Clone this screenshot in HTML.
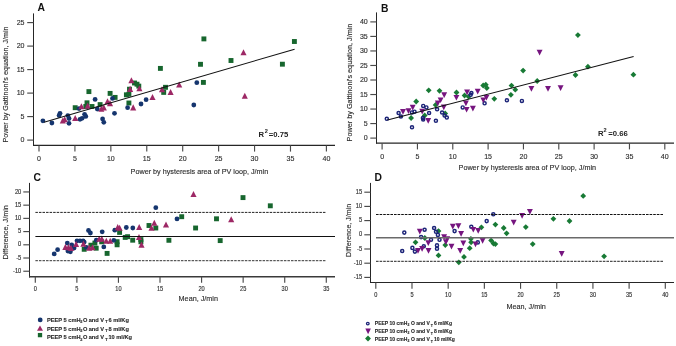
<!DOCTYPE html><html><head><meta charset="utf-8"><style>html,body{margin:0;padding:0;background:#fff;width:676px;height:346px;overflow:hidden}svg{display:block;will-change:transform} text.r{stroke:#2e2e2e;stroke-width:0.14px}</style></head><body>
<svg width="676" height="346" viewBox="0 0 676 346" font-family='"Liberation Sans", sans-serif'>
<rect width="676" height="346" fill="#fff"/>
<line x1="33.5" y1="13.4" x2="33.5" y2="146.0" stroke="#262626" stroke-width="1"/>
<line x1="33.0" y1="145.4" x2="335" y2="145.4" stroke="#262626" stroke-width="1.2"/>
<line x1="27.2" y1="140.10" x2="33.5" y2="140.10" stroke="#4a4a4a" stroke-width="1.15"/>
<text class="r" transform="translate(24.5,142.23) scale(0.93,1)" font-size="7.6" text-anchor="end" fill="#2e2e2e">0</text>
<line x1="27.2" y1="116.60" x2="33.5" y2="116.60" stroke="#4a4a4a" stroke-width="1.15"/>
<text class="r" transform="translate(24.5,118.73) scale(0.93,1)" font-size="7.6" text-anchor="end" fill="#2e2e2e">5</text>
<line x1="27.2" y1="93.10" x2="33.5" y2="93.10" stroke="#4a4a4a" stroke-width="1.15"/>
<text class="r" transform="translate(24.5,95.23) scale(0.93,1)" font-size="7.6" text-anchor="end" fill="#2e2e2e">10</text>
<line x1="27.2" y1="69.60" x2="33.5" y2="69.60" stroke="#4a4a4a" stroke-width="1.15"/>
<text class="r" transform="translate(24.5,71.73) scale(0.93,1)" font-size="7.6" text-anchor="end" fill="#2e2e2e">15</text>
<line x1="27.2" y1="46.10" x2="33.5" y2="46.10" stroke="#4a4a4a" stroke-width="1.15"/>
<text class="r" transform="translate(24.5,48.23) scale(0.93,1)" font-size="7.6" text-anchor="end" fill="#2e2e2e">20</text>
<line x1="27.2" y1="22.60" x2="33.5" y2="22.60" stroke="#4a4a4a" stroke-width="1.15"/>
<text class="r" transform="translate(24.5,24.73) scale(0.93,1)" font-size="7.6" text-anchor="end" fill="#2e2e2e">25</text>
<line x1="39.00" y1="145.4" x2="39.00" y2="151.6" stroke="#4a4a4a" stroke-width="1.15"/>
<text class="r" transform="translate(39.00,160.5) scale(0.93,1)" font-size="7.6" text-anchor="middle" fill="#2e2e2e">0</text>
<line x1="74.92" y1="145.4" x2="74.92" y2="151.6" stroke="#4a4a4a" stroke-width="1.15"/>
<text class="r" transform="translate(74.92,160.5) scale(0.93,1)" font-size="7.6" text-anchor="middle" fill="#2e2e2e">5</text>
<line x1="110.85" y1="145.4" x2="110.85" y2="151.6" stroke="#4a4a4a" stroke-width="1.15"/>
<text class="r" transform="translate(110.85,160.5) scale(0.93,1)" font-size="7.6" text-anchor="middle" fill="#2e2e2e">10</text>
<line x1="146.77" y1="145.4" x2="146.77" y2="151.6" stroke="#4a4a4a" stroke-width="1.15"/>
<text class="r" transform="translate(146.77,160.5) scale(0.93,1)" font-size="7.6" text-anchor="middle" fill="#2e2e2e">15</text>
<line x1="182.70" y1="145.4" x2="182.70" y2="151.6" stroke="#4a4a4a" stroke-width="1.15"/>
<text class="r" transform="translate(182.70,160.5) scale(0.93,1)" font-size="7.6" text-anchor="middle" fill="#2e2e2e">20</text>
<line x1="218.62" y1="145.4" x2="218.62" y2="151.6" stroke="#4a4a4a" stroke-width="1.15"/>
<text class="r" transform="translate(218.62,160.5) scale(0.93,1)" font-size="7.6" text-anchor="middle" fill="#2e2e2e">25</text>
<line x1="254.55" y1="145.4" x2="254.55" y2="151.6" stroke="#4a4a4a" stroke-width="1.15"/>
<text class="r" transform="translate(254.55,160.5) scale(0.93,1)" font-size="7.6" text-anchor="middle" fill="#2e2e2e">30</text>
<line x1="290.48" y1="145.4" x2="290.48" y2="151.6" stroke="#4a4a4a" stroke-width="1.15"/>
<text class="r" transform="translate(290.48,160.5) scale(0.93,1)" font-size="7.6" text-anchor="middle" fill="#2e2e2e">35</text>
<line x1="326.40" y1="145.4" x2="326.40" y2="151.6" stroke="#4a4a4a" stroke-width="1.15"/>
<text class="r" transform="translate(326.40,160.5) scale(0.93,1)" font-size="7.6" text-anchor="middle" fill="#2e2e2e">40</text>
<text x="37.5" y="11.2" font-size="10.3" text-anchor="start" font-weight="bold" fill="#111" >A</text>
<text class="r" x="130.6" y="173.6" font-size="7.6" text-anchor="start" font-weight="normal" fill="#2e2e2e" textLength="137.6" lengthAdjust="spacingAndGlyphs">Power by hysteresis area of PV loop, J/min</text>
<text transform="translate(7.95,142.6) rotate(-90)" class="r" font-size="7.5" fill="#2e2e2e" textLength="116.2" lengthAdjust="spacingAndGlyphs">Power by Gattinoni's equation, J/min</text>
<text x="258.5" y="136.9" font-size="7.7" text-anchor="start" font-weight="bold" fill="#222" >R</text>
<text x="264.7" y="132.9" font-size="5.6" text-anchor="start" font-weight="bold" fill="#222" >2</text>
<text x="268.8" y="136.9" font-size="7.7" text-anchor="start" font-weight="bold" fill="#222" >=0.75</text>
<rect x="72.75" y="105.25" width="4.9" height="4.9" fill="#17662e"/>
<rect x="83.35" y="104.05" width="4.9" height="4.9" fill="#17662e"/>
<rect x="84.55" y="100.35" width="4.9" height="4.9" fill="#17662e"/>
<rect x="86.45" y="89.15" width="4.9" height="4.9" fill="#17662e"/>
<rect x="89.55" y="104.05" width="4.9" height="4.9" fill="#17662e"/>
<rect x="97.65" y="102.15" width="4.9" height="4.9" fill="#17662e"/>
<rect x="107.65" y="90.95" width="4.9" height="4.9" fill="#17662e"/>
<rect x="112.65" y="94.95" width="4.9" height="4.9" fill="#17662e"/>
<rect x="132.05" y="80.55" width="4.9" height="4.9" fill="#17662e"/>
<rect x="134.55" y="81.75" width="4.9" height="4.9" fill="#17662e"/>
<rect x="136.35" y="83.65" width="4.9" height="4.9" fill="#17662e"/>
<rect x="127.05" y="86.75" width="4.9" height="4.9" fill="#17662e"/>
<rect x="123.95" y="92.35" width="4.9" height="4.9" fill="#17662e"/>
<rect x="126.45" y="91.75" width="4.9" height="4.9" fill="#17662e"/>
<rect x="126.45" y="100.55" width="4.9" height="4.9" fill="#17662e"/>
<rect x="157.95" y="65.95" width="4.9" height="4.9" fill="#17662e"/>
<rect x="163.05" y="84.85" width="4.9" height="4.9" fill="#17662e"/>
<rect x="161.25" y="89.95" width="4.9" height="4.9" fill="#17662e"/>
<rect x="198.05" y="61.85" width="4.9" height="4.9" fill="#17662e"/>
<rect x="201.45" y="36.45" width="4.9" height="4.9" fill="#17662e"/>
<rect x="200.95" y="79.95" width="4.9" height="4.9" fill="#17662e"/>
<rect x="228.55" y="58.05" width="4.9" height="4.9" fill="#17662e"/>
<rect x="279.95" y="61.75" width="4.9" height="4.9" fill="#17662e"/>
<rect x="291.95" y="39.05" width="4.9" height="4.9" fill="#17662e"/>
<circle cx="42.9" cy="120.8" r="2.4" fill="#15356e"/>
<circle cx="51.9" cy="123.0" r="2.4" fill="#15356e"/>
<circle cx="59.1" cy="115.6" r="2.4" fill="#15356e"/>
<circle cx="60.0" cy="113.3" r="2.4" fill="#15356e"/>
<circle cx="67.8" cy="115.6" r="2.4" fill="#15356e"/>
<circle cx="69.0" cy="118.5" r="2.4" fill="#15356e"/>
<circle cx="69.0" cy="123.3" r="2.4" fill="#15356e"/>
<circle cx="79.0" cy="108.6" r="2.4" fill="#15356e"/>
<circle cx="80.0" cy="119.3" r="2.4" fill="#15356e"/>
<circle cx="82.1" cy="118.3" r="2.4" fill="#15356e"/>
<circle cx="84.6" cy="114.3" r="2.4" fill="#15356e"/>
<circle cx="85.8" cy="116.4" r="2.4" fill="#15356e"/>
<circle cx="95.1" cy="99.4" r="2.4" fill="#15356e"/>
<circle cx="97.3" cy="109" r="2.4" fill="#15356e"/>
<circle cx="102.6" cy="118.9" r="2.4" fill="#15356e"/>
<circle cx="103.8" cy="122.3" r="2.4" fill="#15356e"/>
<circle cx="112.5" cy="98.4" r="2.4" fill="#15356e"/>
<circle cx="114.5" cy="113.3" r="2.4" fill="#15356e"/>
<circle cx="127.6" cy="107.7" r="2.4" fill="#15356e"/>
<circle cx="141" cy="104" r="2.4" fill="#15356e"/>
<circle cx="146.1" cy="99.7" r="2.4" fill="#15356e"/>
<circle cx="193.8" cy="105.0" r="2.4" fill="#15356e"/>
<circle cx="196.8" cy="82.7" r="2.4" fill="#15356e"/>
<path d="M59.75 123.55L62.80 117.44L65.85 123.55Z" fill="#9d2865"/>
<path d="M61.65 122.25L64.70 116.14L67.75 122.25Z" fill="#9d2865"/>
<path d="M72.15 121.05L75.20 114.94L78.25 121.05Z" fill="#9d2865"/>
<path d="M78.35 109.25L81.40 103.14L84.45 109.25Z" fill="#9d2865"/>
<path d="M84.65 108.65L87.70 102.55L90.75 108.65Z" fill="#9d2865"/>
<path d="M98.25 111.75L101.30 105.64L104.35 111.75Z" fill="#9d2865"/>
<path d="M100.75 110.45L103.80 104.34L106.85 110.45Z" fill="#9d2865"/>
<path d="M104.45 104.25L107.50 98.14L110.55 104.25Z" fill="#9d2865"/>
<path d="M106.95 106.15L110.00 100.05L113.05 106.15Z" fill="#9d2865"/>
<path d="M128.35 83.25L131.40 77.14L134.45 83.25Z" fill="#9d2865"/>
<path d="M127.05 91.95L130.10 85.84L133.15 91.95Z" fill="#9d2865"/>
<path d="M136.35 91.34L139.40 85.24L142.45 91.34Z" fill="#9d2865"/>
<path d="M149.45 100.05L152.50 93.94L155.55 100.05Z" fill="#9d2865"/>
<path d="M158.95 92.34L162.00 86.24L165.05 92.34Z" fill="#9d2865"/>
<path d="M167.55 95.05L170.60 88.94L173.65 95.05Z" fill="#9d2865"/>
<path d="M176.15 87.55L179.20 81.44L182.25 87.55Z" fill="#9d2865"/>
<path d="M130.15 110.45L133.20 104.34L136.25 110.45Z" fill="#9d2865"/>
<path d="M240.45 55.24L243.50 49.15L246.55 55.24Z" fill="#9d2865"/>
<path d="M241.75 98.84L244.80 92.74L247.85 98.84Z" fill="#9d2865"/>
<line x1="44" y1="122.3" x2="294.6" y2="49.2" stroke="#111" stroke-width="1.05"/>
<line x1="376.5" y1="12.4" x2="376.5" y2="143.6" stroke="#262626" stroke-width="1"/>
<line x1="376.0" y1="143.2" x2="674" y2="143.2" stroke="#262626" stroke-width="1.2"/>
<line x1="370.3" y1="138.10" x2="376.5" y2="138.10" stroke="#4a4a4a" stroke-width="1.15"/>
<text class="r" transform="translate(367.8,140.23) scale(0.93,1)" font-size="7.6" text-anchor="end" fill="#2e2e2e">0</text>
<line x1="370.3" y1="123.57" x2="376.5" y2="123.57" stroke="#4a4a4a" stroke-width="1.15"/>
<text class="r" transform="translate(367.8,125.70) scale(0.93,1)" font-size="7.6" text-anchor="end" fill="#2e2e2e">5</text>
<line x1="370.3" y1="109.05" x2="376.5" y2="109.05" stroke="#4a4a4a" stroke-width="1.15"/>
<text class="r" transform="translate(367.8,111.18) scale(0.93,1)" font-size="7.6" text-anchor="end" fill="#2e2e2e">10</text>
<line x1="370.3" y1="94.53" x2="376.5" y2="94.53" stroke="#4a4a4a" stroke-width="1.15"/>
<text class="r" transform="translate(367.8,96.65) scale(0.93,1)" font-size="7.6" text-anchor="end" fill="#2e2e2e">15</text>
<line x1="370.3" y1="80.00" x2="376.5" y2="80.00" stroke="#4a4a4a" stroke-width="1.15"/>
<text class="r" transform="translate(367.8,82.13) scale(0.93,1)" font-size="7.6" text-anchor="end" fill="#2e2e2e">20</text>
<line x1="370.3" y1="65.47" x2="376.5" y2="65.47" stroke="#4a4a4a" stroke-width="1.15"/>
<text class="r" transform="translate(367.8,67.60) scale(0.93,1)" font-size="7.6" text-anchor="end" fill="#2e2e2e">25</text>
<line x1="370.3" y1="50.95" x2="376.5" y2="50.95" stroke="#4a4a4a" stroke-width="1.15"/>
<text class="r" transform="translate(367.8,53.08) scale(0.93,1)" font-size="7.6" text-anchor="end" fill="#2e2e2e">30</text>
<line x1="370.3" y1="36.42" x2="376.5" y2="36.42" stroke="#4a4a4a" stroke-width="1.15"/>
<text class="r" transform="translate(367.8,38.55) scale(0.93,1)" font-size="7.6" text-anchor="end" fill="#2e2e2e">35</text>
<line x1="370.3" y1="21.90" x2="376.5" y2="21.90" stroke="#4a4a4a" stroke-width="1.15"/>
<text class="r" transform="translate(367.8,24.03) scale(0.93,1)" font-size="7.6" text-anchor="end" fill="#2e2e2e">40</text>
<line x1="382.10" y1="143.2" x2="382.10" y2="149.39999999999998" stroke="#4a4a4a" stroke-width="1.15"/>
<text class="r" transform="translate(382.10,158.9) scale(0.93,1)" font-size="7.6" text-anchor="middle" fill="#2e2e2e">0</text>
<line x1="417.44" y1="143.2" x2="417.44" y2="149.39999999999998" stroke="#4a4a4a" stroke-width="1.15"/>
<text class="r" transform="translate(417.44,158.9) scale(0.93,1)" font-size="7.6" text-anchor="middle" fill="#2e2e2e">5</text>
<line x1="452.78" y1="143.2" x2="452.78" y2="149.39999999999998" stroke="#4a4a4a" stroke-width="1.15"/>
<text class="r" transform="translate(452.78,158.9) scale(0.93,1)" font-size="7.6" text-anchor="middle" fill="#2e2e2e">10</text>
<line x1="488.11" y1="143.2" x2="488.11" y2="149.39999999999998" stroke="#4a4a4a" stroke-width="1.15"/>
<text class="r" transform="translate(488.11,158.9) scale(0.93,1)" font-size="7.6" text-anchor="middle" fill="#2e2e2e">15</text>
<line x1="523.45" y1="143.2" x2="523.45" y2="149.39999999999998" stroke="#4a4a4a" stroke-width="1.15"/>
<text class="r" transform="translate(523.45,158.9) scale(0.93,1)" font-size="7.6" text-anchor="middle" fill="#2e2e2e">20</text>
<line x1="558.79" y1="143.2" x2="558.79" y2="149.39999999999998" stroke="#4a4a4a" stroke-width="1.15"/>
<text class="r" transform="translate(558.79,158.9) scale(0.93,1)" font-size="7.6" text-anchor="middle" fill="#2e2e2e">25</text>
<line x1="594.12" y1="143.2" x2="594.12" y2="149.39999999999998" stroke="#4a4a4a" stroke-width="1.15"/>
<text class="r" transform="translate(594.12,158.9) scale(0.93,1)" font-size="7.6" text-anchor="middle" fill="#2e2e2e">30</text>
<line x1="629.46" y1="143.2" x2="629.46" y2="149.39999999999998" stroke="#4a4a4a" stroke-width="1.15"/>
<text class="r" transform="translate(629.46,158.9) scale(0.93,1)" font-size="7.6" text-anchor="middle" fill="#2e2e2e">35</text>
<line x1="664.80" y1="143.2" x2="664.80" y2="149.39999999999998" stroke="#4a4a4a" stroke-width="1.15"/>
<text class="r" transform="translate(664.80,158.9) scale(0.93,1)" font-size="7.6" text-anchor="middle" fill="#2e2e2e">40</text>
<text x="381.0" y="11.8" font-size="10.3" text-anchor="start" font-weight="bold" fill="#111" >B</text>
<text class="r" x="458.6" y="170.2" font-size="7.5" text-anchor="start" font-weight="normal" fill="#2e2e2e" textLength="137.5" lengthAdjust="spacingAndGlyphs">Power by hysteresis area of PV loop, J/min</text>
<text transform="translate(352.0,141.4) rotate(-90)" class="r" font-size="7.5" fill="#2e2e2e" textLength="117.8" lengthAdjust="spacingAndGlyphs">Power by Gattinoni's equation, J/min</text>
<text x="598.0" y="135.8" font-size="7.7" text-anchor="start" font-weight="bold" fill="#222" >R</text>
<text x="603.5" y="132.4" font-size="5.6" text-anchor="start" font-weight="bold" fill="#222" >2</text>
<text x="608.3" y="135.8" font-size="7.7" text-anchor="start" font-weight="bold" fill="#222" >=0.66</text>
<path d="M416.20 98.60L419.10 101.50L416.20 104.40L413.30 101.50Z" fill="#187a35"/>
<path d="M411.10 115.10L414.00 118.00L411.10 120.90L408.20 118.00Z" fill="#187a35"/>
<path d="M424.70 112.60L427.60 115.50L424.70 118.40L421.80 115.50Z" fill="#187a35"/>
<path d="M435.60 102.00L438.50 104.90L435.60 107.80L432.70 104.90Z" fill="#187a35"/>
<path d="M428.70 87.40L431.60 90.30L428.70 93.20L425.80 90.30Z" fill="#187a35"/>
<path d="M439.50 87.90L442.40 90.80L439.50 93.70L436.60 90.80Z" fill="#187a35"/>
<path d="M445.20 110.50L448.10 113.40L445.20 116.30L442.30 113.40Z" fill="#187a35"/>
<path d="M456.50 89.60L459.40 92.50L456.50 95.40L453.60 92.50Z" fill="#187a35"/>
<path d="M464.60 92.60L467.50 95.50L464.60 98.40L461.70 95.50Z" fill="#187a35"/>
<path d="M468.60 93.80L471.50 96.70L468.60 99.60L465.70 96.70Z" fill="#187a35"/>
<path d="M483.20 82.60L486.10 85.50L483.20 88.40L480.30 85.50Z" fill="#187a35"/>
<path d="M485.80 81.80L488.70 84.70L485.80 87.60L482.90 84.70Z" fill="#187a35"/>
<path d="M486.80 85.10L489.70 88.00L486.80 90.90L483.90 88.00Z" fill="#187a35"/>
<path d="M494.30 95.90L497.20 98.80L494.30 101.70L491.40 98.80Z" fill="#187a35"/>
<path d="M511.50 82.70L514.40 85.60L511.50 88.50L508.60 85.60Z" fill="#187a35"/>
<path d="M510.90 91.90L513.80 94.80L510.90 97.70L508.00 94.80Z" fill="#187a35"/>
<path d="M515.30 86.80L518.20 89.70L515.30 92.60L512.40 89.70Z" fill="#187a35"/>
<path d="M523.10 67.70L526.00 70.60L523.10 73.50L520.20 70.60Z" fill="#187a35"/>
<path d="M537.20 78.10L540.10 81.00L537.20 83.90L534.30 81.00Z" fill="#187a35"/>
<path d="M575.50 72.10L578.40 75.00L575.50 77.90L572.60 75.00Z" fill="#187a35"/>
<path d="M587.90 63.80L590.80 66.70L587.90 69.60L585.00 66.70Z" fill="#187a35"/>
<path d="M633.40 71.80L636.30 74.70L633.40 77.60L630.50 74.70Z" fill="#187a35"/>
<path d="M577.90 32.20L580.80 35.10L577.90 38.00L575.00 35.10Z" fill="#187a35"/>
<circle cx="386.8" cy="118.8" r="1.55" fill="none" stroke="#1c2478" stroke-width="1.45"/>
<circle cx="398.6" cy="113" r="1.55" fill="none" stroke="#1c2478" stroke-width="1.45"/>
<circle cx="400.9" cy="116.5" r="1.55" fill="none" stroke="#1c2478" stroke-width="1.45"/>
<circle cx="412" cy="112.4" r="1.55" fill="none" stroke="#1c2478" stroke-width="1.45"/>
<circle cx="414.5" cy="111.7" r="1.55" fill="none" stroke="#1c2478" stroke-width="1.45"/>
<circle cx="412" cy="127.3" r="1.55" fill="none" stroke="#1c2478" stroke-width="1.45"/>
<circle cx="423.2" cy="105.9" r="1.55" fill="none" stroke="#1c2478" stroke-width="1.45"/>
<circle cx="426.4" cy="107.4" r="1.55" fill="none" stroke="#1c2478" stroke-width="1.45"/>
<circle cx="429.1" cy="113" r="1.55" fill="none" stroke="#1c2478" stroke-width="1.45"/>
<circle cx="422.9" cy="118" r="1.55" fill="none" stroke="#1c2478" stroke-width="1.45"/>
<circle cx="423.2" cy="119.5" r="1.55" fill="none" stroke="#1c2478" stroke-width="1.45"/>
<circle cx="437.1" cy="109.3" r="1.55" fill="none" stroke="#1c2478" stroke-width="1.45"/>
<circle cx="435.9" cy="120.8" r="1.55" fill="none" stroke="#1c2478" stroke-width="1.45"/>
<circle cx="442.1" cy="112.6" r="1.55" fill="none" stroke="#1c2478" stroke-width="1.45"/>
<circle cx="444.6" cy="115.5" r="1.55" fill="none" stroke="#1c2478" stroke-width="1.45"/>
<circle cx="446.8" cy="117.6" r="1.55" fill="none" stroke="#1c2478" stroke-width="1.45"/>
<circle cx="462.7" cy="107.4" r="1.55" fill="none" stroke="#1c2478" stroke-width="1.45"/>
<circle cx="471.4" cy="93" r="1.55" fill="none" stroke="#1c2478" stroke-width="1.45"/>
<circle cx="470.7" cy="94.8" r="1.55" fill="none" stroke="#1c2478" stroke-width="1.45"/>
<circle cx="484.6" cy="103.3" r="1.55" fill="none" stroke="#1c2478" stroke-width="1.45"/>
<circle cx="506.9" cy="100.3" r="1.55" fill="none" stroke="#1c2478" stroke-width="1.45"/>
<circle cx="521.9" cy="100.9" r="1.55" fill="none" stroke="#1c2478" stroke-width="1.45"/>
<path d="M400.05 109.01L405.95 109.01L403.00 114.71Z" fill="#76157f"/>
<path d="M405.55 108.21L411.45 108.21L408.50 113.91Z" fill="#76157f"/>
<path d="M409.75 104.81L415.65 104.81L412.70 110.51Z" fill="#76157f"/>
<path d="M419.25 108.71L425.15 108.71L422.20 114.41Z" fill="#76157f"/>
<path d="M425.25 118.01L431.15 118.01L428.20 123.71Z" fill="#76157f"/>
<path d="M434.85 100.61L440.75 100.61L437.80 106.31Z" fill="#76157f"/>
<path d="M437.65 97.41L443.55 97.41L440.60 103.11Z" fill="#76157f"/>
<path d="M441.25 92.21L447.15 92.21L444.20 97.91Z" fill="#76157f"/>
<path d="M440.85 104.61L446.75 104.61L443.80 110.31Z" fill="#76157f"/>
<path d="M453.45 94.91L459.35 94.91L456.40 100.61Z" fill="#76157f"/>
<path d="M464.15 89.51L470.05 89.51L467.10 95.21Z" fill="#76157f"/>
<path d="M474.75 88.71L480.65 88.71L477.70 94.41Z" fill="#76157f"/>
<path d="M462.95 100.51L468.85 100.51L465.90 106.21Z" fill="#76157f"/>
<path d="M463.65 106.91L469.55 106.91L466.60 112.61Z" fill="#76157f"/>
<path d="M469.95 105.81L475.85 105.81L472.90 111.51Z" fill="#76157f"/>
<path d="M483.45 94.91L489.35 94.91L486.40 100.61Z" fill="#76157f"/>
<path d="M480.35 97.41L486.25 97.41L483.30 103.11Z" fill="#76157f"/>
<path d="M528.45 86.01L534.35 86.01L531.40 91.71Z" fill="#76157f"/>
<path d="M545.05 86.01L550.95 86.01L548.00 91.71Z" fill="#76157f"/>
<path d="M557.65 85.21L563.55 85.21L560.60 90.91Z" fill="#76157f"/>
<path d="M536.65 49.81L542.55 49.81L539.60 55.51Z" fill="#76157f"/>
<line x1="387.5" y1="120.1" x2="633.6" y2="56.6" stroke="#111" stroke-width="1.05"/>
<line x1="29.5" y1="182.9" x2="29.5" y2="277.5" stroke="#262626" stroke-width="1"/>
<line x1="29.0" y1="276.8" x2="335.0" y2="276.8" stroke="#3a3a3a" stroke-width="1.5"/>
<line x1="23.3" y1="271.23" x2="29.5" y2="271.23" stroke="#4a4a4a" stroke-width="1.15"/>
<text class="r" transform="translate(21.3,272.86) scale(0.88,1)" font-size="6.5" text-anchor="end" fill="#2e2e2e">-10</text>
<line x1="23.3" y1="258.01" x2="29.5" y2="258.01" stroke="#4a4a4a" stroke-width="1.15"/>
<text class="r" transform="translate(21.3,259.64) scale(0.88,1)" font-size="6.5" text-anchor="end" fill="#2e2e2e">-5</text>
<line x1="23.3" y1="244.80" x2="29.5" y2="244.80" stroke="#4a4a4a" stroke-width="1.15"/>
<text class="r" transform="translate(21.3,246.43) scale(0.88,1)" font-size="6.5" text-anchor="end" fill="#2e2e2e">0</text>
<line x1="23.3" y1="231.59" x2="29.5" y2="231.59" stroke="#4a4a4a" stroke-width="1.15"/>
<text class="r" transform="translate(21.3,233.21) scale(0.88,1)" font-size="6.5" text-anchor="end" fill="#2e2e2e">5</text>
<line x1="23.3" y1="218.37" x2="29.5" y2="218.37" stroke="#4a4a4a" stroke-width="1.15"/>
<text class="r" transform="translate(21.3,220.00) scale(0.88,1)" font-size="6.5" text-anchor="end" fill="#2e2e2e">10</text>
<line x1="23.3" y1="205.16" x2="29.5" y2="205.16" stroke="#4a4a4a" stroke-width="1.15"/>
<text class="r" transform="translate(21.3,206.78) scale(0.88,1)" font-size="6.5" text-anchor="end" fill="#2e2e2e">15</text>
<line x1="23.3" y1="191.94" x2="29.5" y2="191.94" stroke="#4a4a4a" stroke-width="1.15"/>
<text class="r" transform="translate(21.3,193.56) scale(0.88,1)" font-size="6.5" text-anchor="end" fill="#2e2e2e">20</text>
<line x1="35.30" y1="276.8" x2="35.30" y2="282.8" stroke="#4a4a4a" stroke-width="1.15"/>
<text class="r" transform="translate(35.30,290.5) scale(0.88,1)" font-size="6.4" text-anchor="middle" fill="#2e2e2e">0</text>
<line x1="76.87" y1="276.8" x2="76.87" y2="282.8" stroke="#4a4a4a" stroke-width="1.15"/>
<text class="r" transform="translate(76.87,290.5) scale(0.88,1)" font-size="6.4" text-anchor="middle" fill="#2e2e2e">5</text>
<line x1="118.44" y1="276.8" x2="118.44" y2="282.8" stroke="#4a4a4a" stroke-width="1.15"/>
<text class="r" transform="translate(118.44,290.5) scale(0.88,1)" font-size="6.4" text-anchor="middle" fill="#2e2e2e">10</text>
<line x1="160.01" y1="276.8" x2="160.01" y2="282.8" stroke="#4a4a4a" stroke-width="1.15"/>
<text class="r" transform="translate(160.01,290.5) scale(0.88,1)" font-size="6.4" text-anchor="middle" fill="#2e2e2e">15</text>
<line x1="201.58" y1="276.8" x2="201.58" y2="282.8" stroke="#4a4a4a" stroke-width="1.15"/>
<text class="r" transform="translate(201.58,290.5) scale(0.88,1)" font-size="6.4" text-anchor="middle" fill="#2e2e2e">20</text>
<line x1="243.15" y1="276.8" x2="243.15" y2="282.8" stroke="#4a4a4a" stroke-width="1.15"/>
<text class="r" transform="translate(243.15,290.5) scale(0.88,1)" font-size="6.4" text-anchor="middle" fill="#2e2e2e">25</text>
<line x1="284.72" y1="276.8" x2="284.72" y2="282.8" stroke="#4a4a4a" stroke-width="1.15"/>
<text class="r" transform="translate(284.72,290.5) scale(0.88,1)" font-size="6.4" text-anchor="middle" fill="#2e2e2e">30</text>
<line x1="326.29" y1="276.8" x2="326.29" y2="282.8" stroke="#4a4a4a" stroke-width="1.15"/>
<text class="r" transform="translate(326.29,290.5) scale(0.88,1)" font-size="6.4" text-anchor="middle" fill="#2e2e2e">35</text>
<text x="33.4" y="180.7" font-size="10.3" text-anchor="start" font-weight="bold" fill="#111" >C</text>
<text class="r" x="178.6" y="301.4" font-size="7.4" text-anchor="start" font-weight="normal" fill="#2e2e2e" textLength="39.4" lengthAdjust="spacingAndGlyphs">Mean, J/min</text>
<text transform="translate(7.95,259.5) rotate(-90)" class="r" font-size="7.5" fill="#2e2e2e" textLength="54.4" lengthAdjust="spacingAndGlyphs">Difference, J/min</text>
<rect x="81.75" y="246.85" width="4.9" height="4.9" fill="#17662e"/>
<rect x="88.45" y="242.75" width="4.9" height="4.9" fill="#17662e"/>
<rect x="92.45" y="240.65" width="4.9" height="4.9" fill="#17662e"/>
<rect x="93.75" y="245.75" width="4.9" height="4.9" fill="#17662e"/>
<rect x="99.25" y="239.35" width="4.9" height="4.9" fill="#17662e"/>
<rect x="104.65" y="250.95" width="4.9" height="4.9" fill="#17662e"/>
<rect x="114.65" y="239.25" width="4.9" height="4.9" fill="#17662e"/>
<rect x="114.65" y="242.35" width="4.9" height="4.9" fill="#17662e"/>
<rect x="117.15" y="229.95" width="4.9" height="4.9" fill="#17662e"/>
<rect x="122.75" y="234.95" width="4.9" height="4.9" fill="#17662e"/>
<rect x="125.15" y="234.25" width="4.9" height="4.9" fill="#17662e"/>
<rect x="130.25" y="237.75" width="4.9" height="4.9" fill="#17662e"/>
<rect x="146.55" y="223.05" width="4.9" height="4.9" fill="#17662e"/>
<rect x="153.35" y="225.55" width="4.9" height="4.9" fill="#17662e"/>
<rect x="179.25" y="214.25" width="4.9" height="4.9" fill="#17662e"/>
<rect x="193.15" y="225.55" width="4.9" height="4.9" fill="#17662e"/>
<rect x="138.45" y="237.15" width="4.9" height="4.9" fill="#17662e"/>
<rect x="138.45" y="239.35" width="4.9" height="4.9" fill="#17662e"/>
<rect x="166.45" y="237.85" width="4.9" height="4.9" fill="#17662e"/>
<rect x="214.05" y="216.35" width="4.9" height="4.9" fill="#17662e"/>
<rect x="240.55" y="195.15" width="4.9" height="4.9" fill="#17662e"/>
<rect x="267.85" y="203.35" width="4.9" height="4.9" fill="#17662e"/>
<rect x="217.75" y="238.15" width="4.9" height="4.9" fill="#17662e"/>
<circle cx="54.2" cy="253.9" r="2.4" fill="#15356e"/>
<circle cx="57.6" cy="249.7" r="2.4" fill="#15356e"/>
<circle cx="67.3" cy="243.1" r="2.4" fill="#15356e"/>
<circle cx="67.9" cy="251.1" r="2.4" fill="#15356e"/>
<circle cx="70.4" cy="251.8" r="2.4" fill="#15356e"/>
<circle cx="71.7" cy="244.8" r="2.4" fill="#15356e"/>
<circle cx="74.1" cy="248" r="2.4" fill="#15356e"/>
<circle cx="77.0" cy="240.8" r="2.4" fill="#15356e"/>
<circle cx="80.0" cy="240.8" r="2.4" fill="#15356e"/>
<circle cx="83.1" cy="240.8" r="2.4" fill="#15356e"/>
<circle cx="84.2" cy="242.1" r="2.4" fill="#15356e"/>
<circle cx="86.3" cy="247.4" r="2.4" fill="#15356e"/>
<circle cx="88.5" cy="230.5" r="2.4" fill="#15356e"/>
<circle cx="90.4" cy="233" r="2.4" fill="#15356e"/>
<circle cx="96.3" cy="240.2" r="2.4" fill="#15356e"/>
<circle cx="102.2" cy="231.8" r="2.4" fill="#15356e"/>
<circle cx="103.8" cy="246.9" r="2.4" fill="#15356e"/>
<circle cx="113.8" cy="240.3" r="2.4" fill="#15356e"/>
<circle cx="114.8" cy="230.2" r="2.4" fill="#15356e"/>
<circle cx="126.3" cy="227.5" r="2.4" fill="#15356e"/>
<circle cx="132.8" cy="228" r="2.4" fill="#15356e"/>
<circle cx="155.8" cy="207.7" r="2.4" fill="#15356e"/>
<circle cx="177" cy="218.9" r="2.4" fill="#15356e"/>
<path d="M62.35 249.94L65.40 243.84L68.45 249.94Z" fill="#9d2865"/>
<path d="M65.45 250.15L68.50 244.05L71.55 250.15Z" fill="#9d2865"/>
<path d="M67.95 250.94L71.00 244.84L74.05 250.94Z" fill="#9d2865"/>
<path d="M73.05 247.05L76.10 240.95L79.15 247.05Z" fill="#9d2865"/>
<path d="M80.35 246.65L83.40 240.55L86.45 246.65Z" fill="#9d2865"/>
<path d="M86.15 250.65L89.20 244.55L92.25 250.65Z" fill="#9d2865"/>
<path d="M89.45 250.25L92.50 244.15L95.55 250.25Z" fill="#9d2865"/>
<path d="M96.15 241.75L99.20 235.65L102.25 241.75Z" fill="#9d2865"/>
<path d="M98.75 241.65L101.80 235.55L104.85 241.65Z" fill="#9d2865"/>
<path d="M103.25 243.84L106.30 237.75L109.35 243.84Z" fill="#9d2865"/>
<path d="M107.15 243.84L110.20 237.75L113.25 243.84Z" fill="#9d2865"/>
<path d="M114.65 230.15L117.70 224.05L120.75 230.15Z" fill="#9d2865"/>
<path d="M116.55 230.75L119.60 224.65L122.65 230.75Z" fill="#9d2865"/>
<path d="M136.15 230.05L139.20 223.95L142.25 230.05Z" fill="#9d2865"/>
<path d="M151.25 225.75L154.30 219.65L157.35 225.75Z" fill="#9d2865"/>
<path d="M148.45 230.75L151.50 224.65L154.55 230.75Z" fill="#9d2865"/>
<path d="M162.95 227.55L166.00 221.45L169.05 227.55Z" fill="#9d2865"/>
<path d="M135.95 240.05L139.00 233.95L142.05 240.05Z" fill="#9d2865"/>
<path d="M138.45 247.65L141.50 241.55L144.55 247.65Z" fill="#9d2865"/>
<path d="M190.45 197.05L193.50 190.95L196.55 197.05Z" fill="#9d2865"/>
<path d="M228.15 222.25L231.20 216.15L234.25 222.25Z" fill="#9d2865"/>
<line x1="35.4" y1="236.4" x2="335" y2="236.4" stroke="#111" stroke-width="1.05"/>
<line x1="35.4" y1="212.4" x2="325.5" y2="212.4" stroke="#222" stroke-width="1" stroke-dasharray="2.5 1.05"/>
<line x1="35.4" y1="260.7" x2="325.5" y2="260.7" stroke="#333" stroke-width="1" stroke-dasharray="2.5 1.05"/>
<line x1="370.5" y1="182.9" x2="370.5" y2="283.0" stroke="#262626" stroke-width="1"/>
<line x1="370.0" y1="282.5" x2="674" y2="282.5" stroke="#262626" stroke-width="1.2"/>
<line x1="364.3" y1="277.40" x2="370.5" y2="277.40" stroke="#4a4a4a" stroke-width="1.15"/>
<text class="r" transform="translate(362.1,279.02) scale(0.88,1)" font-size="6.5" text-anchor="end" fill="#2e2e2e">-15</text>
<line x1="364.3" y1="263.20" x2="370.5" y2="263.20" stroke="#4a4a4a" stroke-width="1.15"/>
<text class="r" transform="translate(362.1,264.82) scale(0.88,1)" font-size="6.5" text-anchor="end" fill="#2e2e2e">-10</text>
<line x1="364.3" y1="249.00" x2="370.5" y2="249.00" stroke="#4a4a4a" stroke-width="1.15"/>
<text class="r" transform="translate(362.1,250.62) scale(0.88,1)" font-size="6.5" text-anchor="end" fill="#2e2e2e">-5</text>
<line x1="364.3" y1="234.80" x2="370.5" y2="234.80" stroke="#4a4a4a" stroke-width="1.15"/>
<text class="r" transform="translate(362.1,236.43) scale(0.88,1)" font-size="6.5" text-anchor="end" fill="#2e2e2e">0</text>
<line x1="364.3" y1="220.60" x2="370.5" y2="220.60" stroke="#4a4a4a" stroke-width="1.15"/>
<text class="r" transform="translate(362.1,222.23) scale(0.88,1)" font-size="6.5" text-anchor="end" fill="#2e2e2e">5</text>
<line x1="364.3" y1="206.40" x2="370.5" y2="206.40" stroke="#4a4a4a" stroke-width="1.15"/>
<text class="r" transform="translate(362.1,208.03) scale(0.88,1)" font-size="6.5" text-anchor="end" fill="#2e2e2e">10</text>
<line x1="364.3" y1="192.20" x2="370.5" y2="192.20" stroke="#4a4a4a" stroke-width="1.15"/>
<text class="r" transform="translate(362.1,193.83) scale(0.88,1)" font-size="6.5" text-anchor="end" fill="#2e2e2e">15</text>
<line x1="375.80" y1="282.5" x2="375.80" y2="288.8" stroke="#4a4a4a" stroke-width="1.15"/>
<text class="r" transform="translate(375.80,296.5) scale(0.88,1)" font-size="6.4" text-anchor="middle" fill="#2e2e2e">0</text>
<line x1="411.99" y1="282.5" x2="411.99" y2="288.8" stroke="#4a4a4a" stroke-width="1.15"/>
<text class="r" transform="translate(411.99,296.5) scale(0.88,1)" font-size="6.4" text-anchor="middle" fill="#2e2e2e">5</text>
<line x1="448.18" y1="282.5" x2="448.18" y2="288.8" stroke="#4a4a4a" stroke-width="1.15"/>
<text class="r" transform="translate(448.18,296.5) scale(0.88,1)" font-size="6.4" text-anchor="middle" fill="#2e2e2e">10</text>
<line x1="484.36" y1="282.5" x2="484.36" y2="288.8" stroke="#4a4a4a" stroke-width="1.15"/>
<text class="r" transform="translate(484.36,296.5) scale(0.88,1)" font-size="6.4" text-anchor="middle" fill="#2e2e2e">15</text>
<line x1="520.55" y1="282.5" x2="520.55" y2="288.8" stroke="#4a4a4a" stroke-width="1.15"/>
<text class="r" transform="translate(520.55,296.5) scale(0.88,1)" font-size="6.4" text-anchor="middle" fill="#2e2e2e">20</text>
<line x1="556.74" y1="282.5" x2="556.74" y2="288.8" stroke="#4a4a4a" stroke-width="1.15"/>
<text class="r" transform="translate(556.74,296.5) scale(0.88,1)" font-size="6.4" text-anchor="middle" fill="#2e2e2e">25</text>
<line x1="592.92" y1="282.5" x2="592.92" y2="288.8" stroke="#4a4a4a" stroke-width="1.15"/>
<text class="r" transform="translate(592.92,296.5) scale(0.88,1)" font-size="6.4" text-anchor="middle" fill="#2e2e2e">30</text>
<line x1="629.11" y1="282.5" x2="629.11" y2="288.8" stroke="#4a4a4a" stroke-width="1.15"/>
<text class="r" transform="translate(629.11,296.5) scale(0.88,1)" font-size="6.4" text-anchor="middle" fill="#2e2e2e">35</text>
<line x1="665.30" y1="282.5" x2="665.30" y2="288.8" stroke="#4a4a4a" stroke-width="1.15"/>
<text class="r" transform="translate(665.30,296.5) scale(0.88,1)" font-size="6.4" text-anchor="middle" fill="#2e2e2e">40</text>
<text x="374.4" y="180.7" font-size="10.3" text-anchor="start" font-weight="bold" fill="#111" >D</text>
<text class="r" x="506.5" y="308.9" font-size="7.3" text-anchor="start" font-weight="normal" fill="#2e2e2e" textLength="39.4" lengthAdjust="spacingAndGlyphs">Mean, J/min</text>
<text transform="translate(351.1,256.9) rotate(-90)" class="r" font-size="7.4" fill="#2e2e2e" textLength="53.2" lengthAdjust="spacingAndGlyphs">Difference, J/min</text>
<path d="M415.50 239.40L418.40 242.30L415.50 245.20L412.60 242.30Z" fill="#187a35"/>
<path d="M424.80 235.10L427.70 238.00L424.80 240.90L421.90 238.00Z" fill="#187a35"/>
<path d="M438.50 228.20L441.40 231.10L438.50 234.00L435.60 231.10Z" fill="#187a35"/>
<path d="M445.30 242.20L448.20 245.10L445.30 248.00L442.40 245.10Z" fill="#187a35"/>
<path d="M438.50 252.50L441.40 255.40L438.50 258.30L435.60 255.40Z" fill="#187a35"/>
<path d="M464.00 254.00L466.90 256.90L464.00 259.80L461.10 256.90Z" fill="#187a35"/>
<path d="M469.70 245.30L472.60 248.20L469.70 251.10L466.80 248.20Z" fill="#187a35"/>
<path d="M470.90 235.90L473.80 238.80L470.90 241.70L468.00 238.80Z" fill="#187a35"/>
<path d="M471.10 239.40L474.00 242.30L471.10 245.20L468.20 242.30Z" fill="#187a35"/>
<path d="M481.40 224.40L484.30 227.30L481.40 230.20L478.50 227.30Z" fill="#187a35"/>
<path d="M495.40 221.70L498.30 224.60L495.40 227.50L492.50 224.60Z" fill="#187a35"/>
<path d="M503.70 225.10L506.60 228.00L503.70 230.90L500.80 228.00Z" fill="#187a35"/>
<path d="M506.60 230.40L509.50 233.30L506.60 236.20L503.70 233.30Z" fill="#187a35"/>
<path d="M525.80 224.20L528.70 227.10L525.80 230.00L522.90 227.10Z" fill="#187a35"/>
<path d="M491.10 237.50L494.00 240.40L491.10 243.30L488.20 240.40Z" fill="#187a35"/>
<path d="M493.50 240.60L496.40 243.50L493.50 246.40L490.60 243.50Z" fill="#187a35"/>
<path d="M495.40 241.20L498.30 244.10L495.40 247.00L492.50 244.10Z" fill="#187a35"/>
<path d="M532.70 241.20L535.60 244.10L532.70 247.00L529.80 244.10Z" fill="#187a35"/>
<path d="M553.40 215.90L556.30 218.80L553.40 221.70L550.50 218.80Z" fill="#187a35"/>
<path d="M569.50 218.10L572.40 221.00L569.50 223.90L566.60 221.00Z" fill="#187a35"/>
<path d="M583.20 193.00L586.10 195.90L583.20 198.80L580.30 195.90Z" fill="#187a35"/>
<path d="M604.10 253.40L607.00 256.30L604.10 259.20L601.20 256.30Z" fill="#187a35"/>
<path d="M458.80 259.40L461.70 262.30L458.80 265.20L455.90 262.30Z" fill="#187a35"/>
<circle cx="404.3" cy="232.6" r="1.55" fill="none" stroke="#1c2478" stroke-width="1.45"/>
<circle cx="402.2" cy="251" r="1.55" fill="none" stroke="#1c2478" stroke-width="1.45"/>
<circle cx="412.4" cy="247.9" r="1.55" fill="none" stroke="#1c2478" stroke-width="1.45"/>
<circle cx="414.9" cy="251.6" r="1.55" fill="none" stroke="#1c2478" stroke-width="1.45"/>
<circle cx="421.1" cy="237.1" r="1.55" fill="none" stroke="#1c2478" stroke-width="1.45"/>
<circle cx="424.6" cy="229.7" r="1.55" fill="none" stroke="#1c2478" stroke-width="1.45"/>
<circle cx="423.8" cy="246.3" r="1.55" fill="none" stroke="#1c2478" stroke-width="1.45"/>
<circle cx="431" cy="239.8" r="1.55" fill="none" stroke="#1c2478" stroke-width="1.45"/>
<circle cx="434.1" cy="228" r="1.55" fill="none" stroke="#1c2478" stroke-width="1.45"/>
<circle cx="436" cy="231.8" r="1.55" fill="none" stroke="#1c2478" stroke-width="1.45"/>
<circle cx="437.9" cy="234.9" r="1.55" fill="none" stroke="#1c2478" stroke-width="1.45"/>
<circle cx="439.5" cy="239.8" r="1.55" fill="none" stroke="#1c2478" stroke-width="1.45"/>
<circle cx="437" cy="245.4" r="1.55" fill="none" stroke="#1c2478" stroke-width="1.45"/>
<circle cx="437" cy="248.8" r="1.55" fill="none" stroke="#1c2478" stroke-width="1.45"/>
<circle cx="454.6" cy="231.1" r="1.55" fill="none" stroke="#1c2478" stroke-width="1.45"/>
<circle cx="471.3" cy="226.8" r="1.55" fill="none" stroke="#1c2478" stroke-width="1.45"/>
<circle cx="477.8" cy="242.4" r="1.55" fill="none" stroke="#1c2478" stroke-width="1.45"/>
<circle cx="486.7" cy="221.1" r="1.55" fill="none" stroke="#1c2478" stroke-width="1.45"/>
<circle cx="493.3" cy="214.3" r="1.55" fill="none" stroke="#1c2478" stroke-width="1.45"/>
<path d="M416.85 228.71L422.75 228.71L419.80 234.41Z" fill="#76157f"/>
<path d="M425.35 240.21L431.25 240.21L428.30 245.91Z" fill="#76157f"/>
<path d="M415.05 248.01L420.95 248.01L418.00 253.71Z" fill="#76157f"/>
<path d="M419.15 246.11L425.05 246.11L422.10 251.81Z" fill="#76157f"/>
<path d="M425.55 248.01L431.45 248.01L428.50 253.71Z" fill="#76157f"/>
<path d="M441.15 234.31L447.05 234.31L444.10 240.01Z" fill="#76157f"/>
<path d="M444.25 236.21L450.15 236.21L447.20 241.91Z" fill="#76157f"/>
<path d="M442.95 239.31L448.85 239.31L445.90 245.01Z" fill="#76157f"/>
<path d="M448.55 243.71L454.45 243.71L451.50 249.41Z" fill="#76157f"/>
<path d="M449.85 223.81L455.75 223.81L452.80 229.51Z" fill="#76157f"/>
<path d="M455.45 223.21L461.35 223.21L458.40 228.91Z" fill="#76157f"/>
<path d="M458.15 231.01L464.05 231.01L461.10 236.71Z" fill="#76157f"/>
<path d="M460.35 240.61L466.25 240.61L463.30 246.31Z" fill="#76157f"/>
<path d="M457.25 248.01L463.15 248.01L460.20 253.71Z" fill="#76157f"/>
<path d="M470.35 226.91L476.25 226.91L473.30 232.61Z" fill="#76157f"/>
<path d="M475.25 228.11L481.15 228.11L478.20 233.81Z" fill="#76157f"/>
<path d="M472.55 241.51L478.45 241.51L475.50 247.21Z" fill="#76157f"/>
<path d="M479.65 238.01L485.55 238.01L482.60 243.71Z" fill="#76157f"/>
<path d="M510.75 219.71L516.65 219.71L513.70 225.41Z" fill="#76157f"/>
<path d="M519.15 213.11L525.05 213.11L522.10 218.81Z" fill="#76157f"/>
<path d="M526.95 209.01L532.85 209.01L529.90 214.71Z" fill="#76157f"/>
<path d="M558.75 251.11L564.65 251.11L561.70 256.81Z" fill="#76157f"/>
<line x1="376" y1="237.8" x2="674" y2="237.8" stroke="#6a6a6a" stroke-width="1.5"/>
<line x1="376" y1="214.5" x2="664" y2="214.5" stroke="#111" stroke-width="1.1" stroke-dasharray="2.6 1.0"/>
<line x1="376" y1="261.3" x2="664" y2="261.3" stroke="#222" stroke-width="1" stroke-dasharray="2.6 1.0"/>
<circle cx="40.2" cy="319.9" r="2.4" fill="#15356e"/>
<path d="M37.00 330.64L40.00 325.44L43.00 330.64Z" fill="#9d2865"/>
<rect x="37.85" y="332.95" width="4.3" height="4.3" fill="#17662e"/>
<text transform="translate(47.00,321.80) scale(0.95,1)" font-size="5.99" font-weight="bold" fill="#262626" stroke="#262626" stroke-width="0.12">PEEP 5 cmH</text>
<text transform="translate(80.30,323.20) scale(0.95,1)" font-size="4.09" font-weight="bold" fill="#262626" stroke="#262626" stroke-width="0.12">2</text>
<text transform="translate(83.00,321.80) scale(0.95,1)" font-size="5.99" font-weight="bold" fill="#262626" stroke="#262626" stroke-width="0.12">O</text>
<text transform="translate(88.70,321.80) scale(0.95,1)" font-size="5.99" font-weight="bold" fill="#262626" stroke="#262626" stroke-width="0.12">and V</text>
<text transform="translate(105.20,323.40) scale(0.95,1)" font-size="4.09" font-weight="bold" fill="#262626" stroke="#262626" stroke-width="0.12">T</text>
<text transform="translate(108.40,321.80) scale(0.95,1)" font-size="5.99" font-weight="bold" fill="#262626" stroke="#262626" stroke-width="0.12">6 ml/Kg</text>
<text transform="translate(47.00,330.70) scale(0.95,1)" font-size="5.99" font-weight="bold" fill="#262626" stroke="#262626" stroke-width="0.12">PEEP 5 cmH</text>
<text transform="translate(80.30,332.10) scale(0.95,1)" font-size="4.09" font-weight="bold" fill="#262626" stroke="#262626" stroke-width="0.12">2</text>
<text transform="translate(83.00,330.70) scale(0.95,1)" font-size="5.99" font-weight="bold" fill="#262626" stroke="#262626" stroke-width="0.12">O</text>
<text transform="translate(88.70,330.70) scale(0.95,1)" font-size="5.99" font-weight="bold" fill="#262626" stroke="#262626" stroke-width="0.12">and V</text>
<text transform="translate(105.20,332.30) scale(0.95,1)" font-size="4.09" font-weight="bold" fill="#262626" stroke="#262626" stroke-width="0.12">T</text>
<text transform="translate(108.40,330.70) scale(0.95,1)" font-size="5.99" font-weight="bold" fill="#262626" stroke="#262626" stroke-width="0.12">8 ml/Kg</text>
<text transform="translate(47.00,339.40) scale(0.95,1)" font-size="5.99" font-weight="bold" fill="#262626" stroke="#262626" stroke-width="0.12">PEEP 5 cmH</text>
<text transform="translate(80.30,340.80) scale(0.95,1)" font-size="4.09" font-weight="bold" fill="#262626" stroke="#262626" stroke-width="0.12">2</text>
<text transform="translate(83.00,339.40) scale(0.95,1)" font-size="5.99" font-weight="bold" fill="#262626" stroke="#262626" stroke-width="0.12">O</text>
<text transform="translate(88.70,339.40) scale(0.95,1)" font-size="5.99" font-weight="bold" fill="#262626" stroke="#262626" stroke-width="0.12">and V</text>
<text transform="translate(105.20,341.00) scale(0.95,1)" font-size="4.09" font-weight="bold" fill="#262626" stroke="#262626" stroke-width="0.12">T</text>
<text transform="translate(108.40,339.40) scale(0.95,1)" font-size="5.99" font-weight="bold" fill="#262626" stroke="#262626" stroke-width="0.12">10 ml/Kg</text>
<circle cx="367.8" cy="323.6" r="1.35" fill="none" stroke="#1c2478" stroke-width="1.25"/>
<path d="M365.30 328.55L370.90 328.55L368.10 334.15Z" fill="#76157f"/>
<path d="M368.00 335.55L370.95 338.50L368.00 341.45L365.05 338.50Z" fill="#187a35"/>
<text transform="translate(374.80,324.90) scale(0.95,1)" font-size="5.30" font-weight="bold" fill="#262626" stroke="#262626" stroke-width="0.12">PEEP 10 cmH</text>
<text transform="translate(407.40,326.20) scale(0.95,1)" font-size="3.68" font-weight="bold" fill="#262626" stroke="#262626" stroke-width="0.12">2</text>
<text transform="translate(410.90,324.90) scale(0.95,1)" font-size="5.30" font-weight="bold" fill="#262626" stroke="#262626" stroke-width="0.12">O</text>
<text transform="translate(416.20,324.90) scale(0.95,1)" font-size="5.30" font-weight="bold" fill="#262626" stroke="#262626" stroke-width="0.12">and V</text>
<text transform="translate(430.80,327.10) scale(0.95,1)" font-size="3.68" font-weight="bold" fill="#262626" stroke="#262626" stroke-width="0.12">T</text>
<text transform="translate(433.90,324.90) scale(0.95,1)" font-size="5.30" font-weight="bold" fill="#262626" stroke="#262626" stroke-width="0.12">6 ml/Kg</text>
<text transform="translate(374.80,333.00) scale(0.95,1)" font-size="5.30" font-weight="bold" fill="#262626" stroke="#262626" stroke-width="0.12">PEEP 10 cmH</text>
<text transform="translate(407.40,334.30) scale(0.95,1)" font-size="3.68" font-weight="bold" fill="#262626" stroke="#262626" stroke-width="0.12">2</text>
<text transform="translate(410.90,333.00) scale(0.95,1)" font-size="5.30" font-weight="bold" fill="#262626" stroke="#262626" stroke-width="0.12">O</text>
<text transform="translate(416.20,333.00) scale(0.95,1)" font-size="5.30" font-weight="bold" fill="#262626" stroke="#262626" stroke-width="0.12">and V</text>
<text transform="translate(430.80,335.20) scale(0.95,1)" font-size="3.68" font-weight="bold" fill="#262626" stroke="#262626" stroke-width="0.12">T</text>
<text transform="translate(433.90,333.00) scale(0.95,1)" font-size="5.30" font-weight="bold" fill="#262626" stroke="#262626" stroke-width="0.12">8 ml/Kg</text>
<text transform="translate(374.80,341.10) scale(0.95,1)" font-size="5.30" font-weight="bold" fill="#262626" stroke="#262626" stroke-width="0.12">PEEP 10 cmH</text>
<text transform="translate(407.40,342.40) scale(0.95,1)" font-size="3.68" font-weight="bold" fill="#262626" stroke="#262626" stroke-width="0.12">2</text>
<text transform="translate(410.90,341.10) scale(0.95,1)" font-size="5.30" font-weight="bold" fill="#262626" stroke="#262626" stroke-width="0.12">O</text>
<text transform="translate(416.20,341.10) scale(0.95,1)" font-size="5.30" font-weight="bold" fill="#262626" stroke="#262626" stroke-width="0.12">and V</text>
<text transform="translate(430.80,343.30) scale(0.95,1)" font-size="3.68" font-weight="bold" fill="#262626" stroke="#262626" stroke-width="0.12">T</text>
<text transform="translate(433.90,341.10) scale(0.95,1)" font-size="5.30" font-weight="bold" fill="#262626" stroke="#262626" stroke-width="0.12">10 ml/Kg</text>
</svg></body></html>
